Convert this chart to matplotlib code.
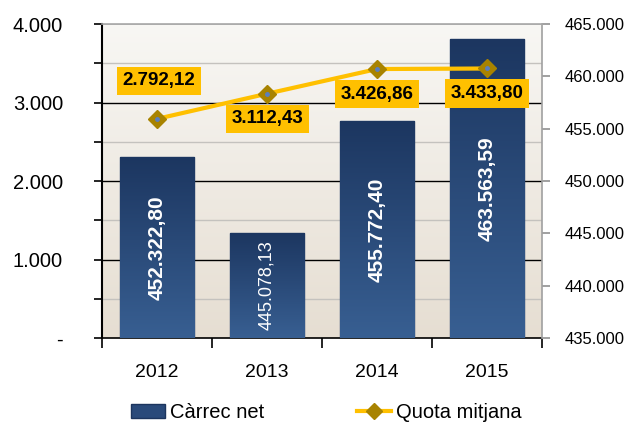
import numpy as np
import matplotlib
matplotlib.use("Agg")
import matplotlib.pyplot as plt
from matplotlib.colors import LinearSegmentedColormap
from matplotlib.patches import Patch
from matplotlib.lines import Line2D

plt.rcParams['font.family'] = ['Liberation Sans', 'DejaVu Sans']

years = ["2012", "2013", "2014", "2015"]
carrec_net = [452322.80, 445078.13, 455772.40, 463563.59]
quota_mitjana = [2792.12, 3112.43, 3426.86, 3433.80]
left_ticks = [0, 1000, 2000, 3000, 4000]
right_ticks = [435000, 440000, 445000, 450000, 455000, 460000, 465000]


def fmt(v, dec=2):
    s = f"{v:,.{dec}f}"
    return s.replace(",", "X").replace(".", ",").replace("X", ".")


def fmt_tick(v):
    return "-" if v == 0 else fmt(v, 0)


fig = plt.figure(figsize=(6.27, 4.22), dpi=100)
ax = fig.add_axes([0.1627, 0.199, 0.7017, 0.744])
x = np.arange(len(years))

# background gradient
bg = LinearSegmentedColormap.from_list("bg", ["#f8f7f4", "#e6ded2"])
ax.imshow(np.linspace(0, 1, 256).reshape(-1, 1), cmap=bg, aspect="auto",
          extent=[0, 1, 0, 1], transform=ax.transAxes, zorder=0)

ax.set_xlim(-0.5, 3.5)
ax.set_ylim(0, 4000)
for v in np.arange(500, 4000, 500):
    major = v % 1000 == 0
    ax.axhline(v, color="black" if major else "#c4c2be", lw=1.0, zorder=1)
ax.axhline(4000, color="#b0b0b0", lw=1.2, zorder=1)

ax.set_yticks(left_ticks)
ax.set_yticklabels([fmt_tick(v) for v in left_ticks], fontsize=14.5)
ax.set_yticks(np.arange(500, 4000, 1000), minor=True)
ax.tick_params(axis="y", which="both", direction="out", length=6, width=1.2, pad=22)
ax.set_xticks(np.arange(-0.5, 4.0, 1.0))
ax.set_xticklabels([])
ax.set_xticks(x, minor=True)
ax.set_xticklabels(years, minor=True, fontsize=14)
ax.tick_params(axis="x", which="major", direction="out", length=7, width=1.2)
ax.tick_params(axis="x", which="minor", length=0, pad=19)
ax.spines["left"].set_linewidth(1.5)
ax.spines["bottom"].set_linewidth(1.2)
ax.spines["top"].set_visible(False)
ax.spines["right"].set_visible(False)

# bars on right scale
axb = ax.twinx()
axb.patch.set_visible(False)
axb.set_ylim(435000, 465000)
axb.set_yticks(right_ticks)
axb.set_yticklabels([fmt(v, 0) for v in right_ticks], fontsize=12)
axb.tick_params(axis="y", direction="out", length=6, width=1.2, color="#909090", pad=10)
axb.spines["right"].set_color("#a0a0a0")
axb.spines["right"].set_linewidth(1.2)
axb.spines["top"].set_color("#a8a8a8")
axb.spines["top"].set_linewidth(1.2)
axb.spines["left"].set_visible(False)
axb.spines["bottom"].set_visible(False)

barcm = LinearSegmentedColormap.from_list("bar", ["#1c3660", "#385f92"])
bars = axb.bar(x, carrec_net, width=0.68, bottom=0, color="none",
               edgecolor="#1f3a66", lw=1.0, zorder=2)
for b, val in zip(bars, carrec_net):
    im = axb.imshow(np.linspace(0, 1, 256).reshape(-1, 1), cmap=barcm, aspect="auto",
                    extent=[b.get_x(), b.get_x() + b.get_width(), 435000, val],
                    zorder=2)
    im.set_clip_path(b)
axb.set_xlim(-0.5, 3.5)
axb.set_ylim(435000, 465000)

for i, val in enumerate(carrec_net):
    small = i == 1
    axb.text(i, (435000 + val) / 2, fmt(val), rotation=90, ha="center", va="center",
             color="white", fontsize=13 if small else 15,
             fontweight="normal" if small else "bold", zorder=4)

# line on left scale, drawn on top
axl = ax.twinx()
axl.set_ylim(0, 4000)
axl.set_xlim(-0.5, 3.5)
axl.axis("off")
axl.plot(x, quota_mitjana, color="#ffc000", lw=3, zorder=5,
         marker="D", ms=9, mfc="#a88300", mec="#a88300")
axl.plot(x, quota_mitjana, ls="none", marker="o", ms=2.5, color="#5a7fbf", zorder=6)

offsets = [(2, 38), (0, -25), (0, -25), (0, -25)]
for i, val in enumerate(quota_mitjana):
    axl.annotate(fmt(val), (i, val), xytext=offsets[i], textcoords="offset pixels",
                 ha="center", va="center", fontsize=13.5, fontweight="bold",
                 bbox=dict(boxstyle="square,pad=0.3", fc="#ffc000", ec="none"),
                 zorder=7)

handles = [Patch(facecolor="#2a4a7a", edgecolor="#1c355e"),
           Line2D([], [], color="#ffc000", lw=3, marker="D", ms=8,
                  mfc="#a88300", mec="#a88300")]
fig.legend(handles, ["Càrrec net", "Quota mitjana"], loc="center",
           bbox_to_anchor=(0.52, 0.022), ncol=2, frameon=False, fontsize=14.5,
           handlelength=1.7, handletextpad=0.25, columnspacing=4.6)

fig.savefig("out.png", dpi=100)
